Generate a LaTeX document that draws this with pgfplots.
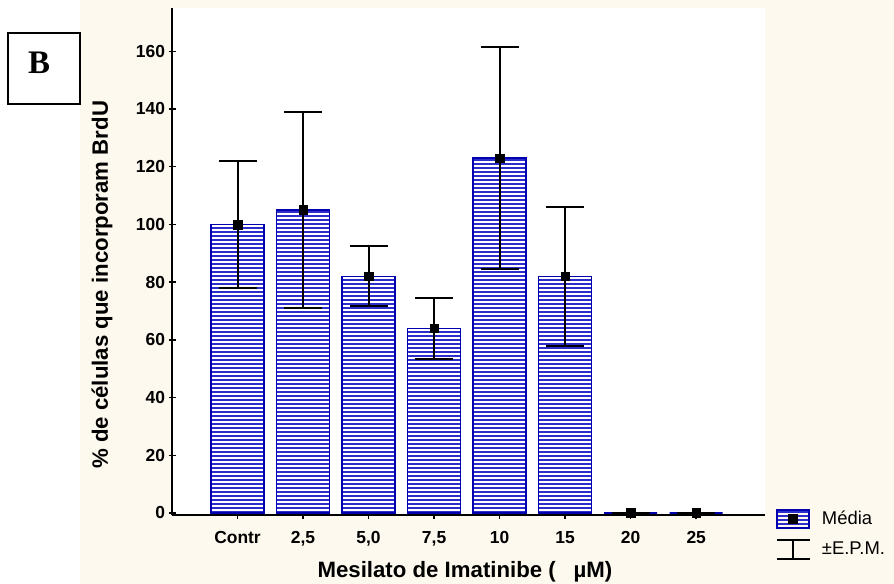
\documentclass[border=0pt]{standalone}
\usepackage{pgfplots}
\pgfplotsset{compat=1.18}
\usepackage{pgfplotstable}
\usepackage{fontspec}
\setmainfont{Liberation Sans}
\newfontfamily\serifB{Liberation Serif}
\usetikzlibrary{patterns.meta}
\definecolor{cream}{RGB}{254,249,238}
\definecolor{barblue}{RGB}{0,0,175}
\definecolor{stripedark}{RGB}{45,45,205}
\tikzset{stripebar/.style={pattern={Lines[angle=0, distance=4bp, line width=1.4bp]}, pattern color=stripedark}}
\pgfplotstableread{
x y e
1 100 22
2 105 34
3 82 10.4
4 64 10.6
5 123 38.6
6 82 24
7 0 0
8 0 0
}\datatable
\begin{document}
\begin{tikzpicture}
\useasboundingbox (0bp,0bp) rectangle (894bp,584bp);
\fill[white] (0bp,0bp) rectangle (894bp,584bp);
\fill[cream] (80bp,0bp) rectangle (894bp,584bp);
\draw[line width=1.5bp] (8bp,551bp) rectangle (80bp,480bp);
\node[font=\serifB\bfseries\fontsize{33}{36}\selectfont] at (39bp,521bp) {B};
\begin{axis}[
  at={(172bp,69bp)}, anchor=south west,
  width=593bp, height=507bp, scale only axis,
  xmin=0, xmax=9.05, ymin=-0.7, ymax=175,
  axis x line*=bottom, axis y line*=left,
  axis background/.style={fill=white},
  clip=false,
  xtick={1,...,8},
  xticklabels={Contr,{2,5},{5,0},{7,5},10,15,20,25},
  ytick={0,20,...,160},
  tick align=center,
  major tick length=7bp,
  tick style={black, line width=1.5bp},
  axis line style={line width=2bp, black},
  ticklabel style={font=\bfseries\fontsize{17.5}{20}\selectfont},
  xticklabel style={yshift=-9bp},
  /pgf/number format/assume math mode=true,
  xlabel={Mesilato de Imatinibe (\hspace{0.8em}µM)},
  xlabel style={font=\bfseries\fontsize{22.3}{25}\selectfont, at={(rel axis cs:0.494,-0.112)}, anchor=center},
  ylabel={\% de células que incorporam BrdU},
  ylabel style={font=\bfseries\fontsize{22.3}{25}\selectfont, at={(rel axis cs:-0.118,0.454)}, anchor=center},
  legend style={at={(rel axis cs:1.0185,0.012)}, anchor=north west, draw=none, fill=none,
    font=\fontsize{18.5}{21}\selectfont, row sep=10bp, inner sep=0pt},
  legend cell align=left,
]
\addplot[ybar, bar width=0.81, draw=barblue, line width=1.5bp, stripebar,
  legend image code/.code={
    \draw[stripebar, draw=barblue, line width=1.5bp] (0bp,-9bp) rectangle (32bp,9bp);
    \fill[black] (12bp,-4bp) rectangle (20bp,4bp);
    \path (42bp,0bp);
  }] table[x=x,y=y] {\datatable};
\addlegendentry{Média}
\addplot[only marks, mark=square*, mark size=4.3bp, black,
  legend image code/.code={
    \draw[line width=2bp, black] (0bp,9.5bp) -- (33bp,9.5bp) (16bp,9.5bp) -- (16bp,-9.5bp) (0bp,-9.5bp) -- (33bp,-9.5bp);
    \path (38bp,0bp);
  },
  error bars/.cd, y dir=both, y explicit, error mark=|,
  error bar style={line width=2bp, black},
  error mark options={line width=2bp, mark size=19bp, black},
  ] table[x=x, y=y, y error=e] {\datatable};
\addlegendentry{±E.P.M.}
\end{axis}
\end{tikzpicture}
\end{document}
